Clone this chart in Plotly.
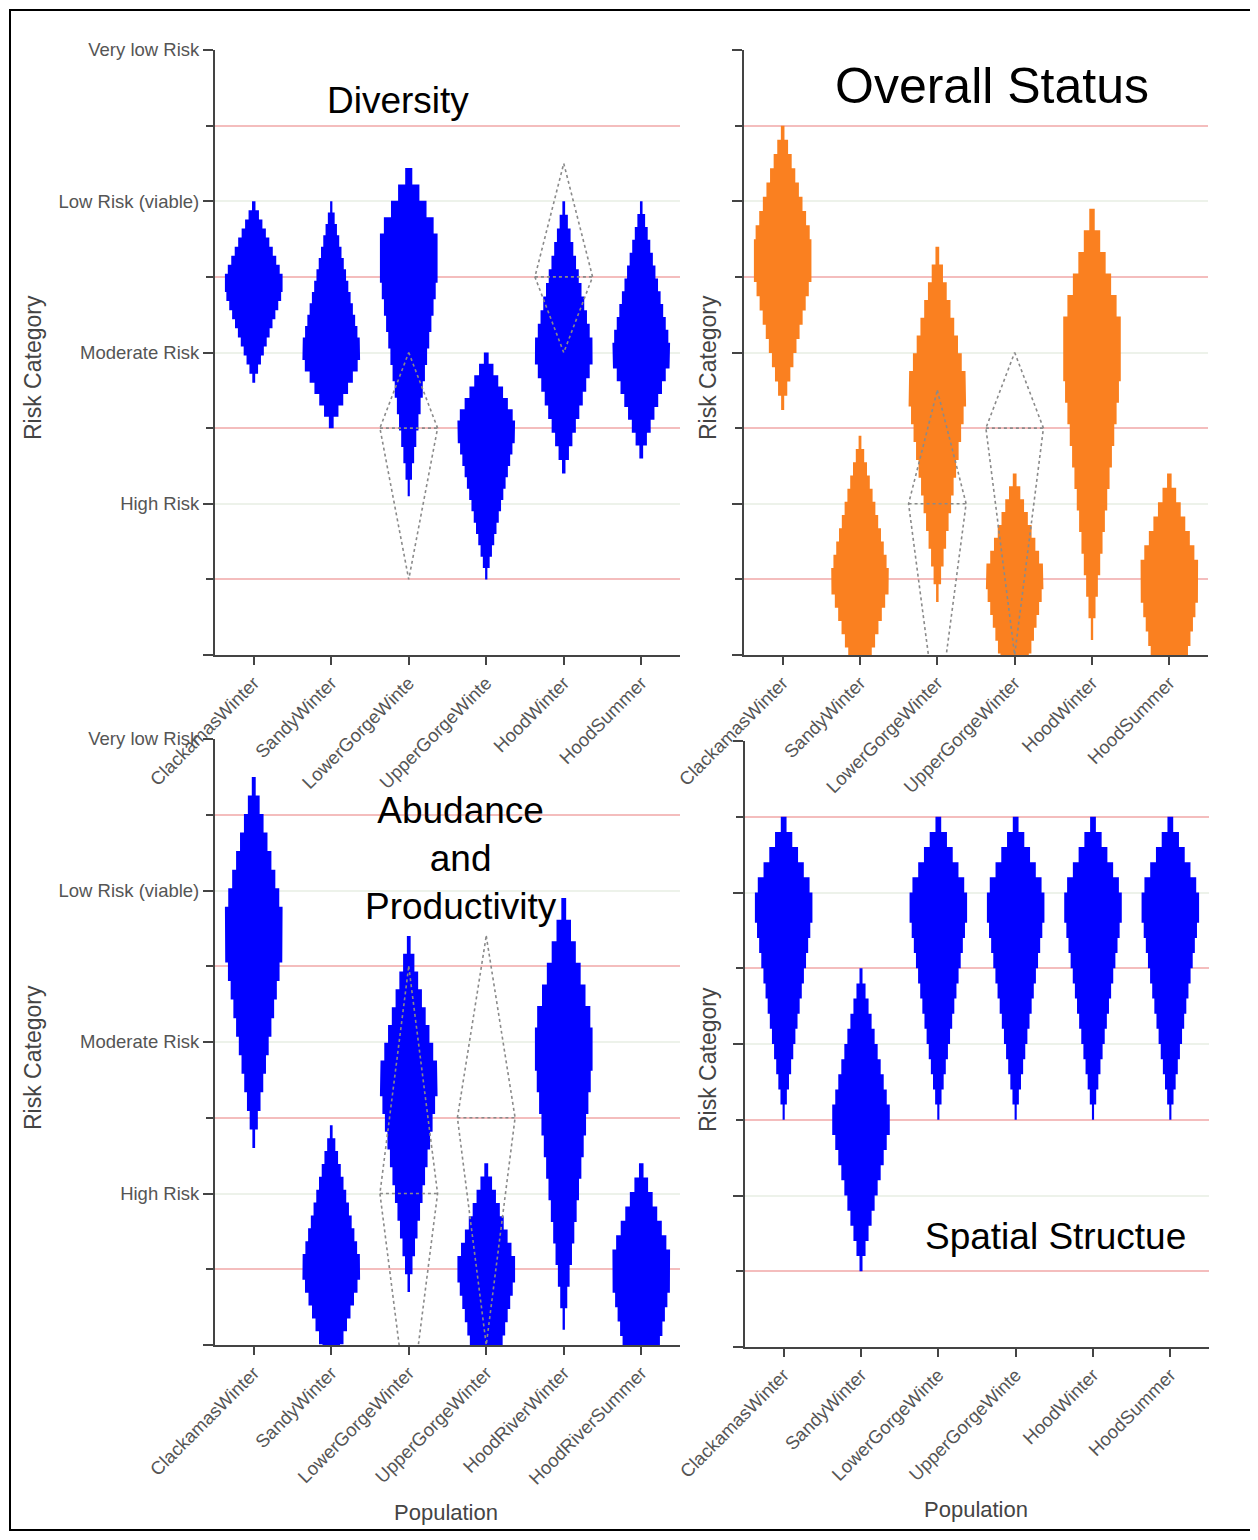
import plotly.graph_objects as go

# ---------------- data ----------------
risk_tickvals = [0, 1, 2, 3, 4]
risk_ticktext = ["", "High Risk", "Moderate Risk", "Low Risk (viable)", "Very low Risk"]

cats_div = ["ClackamasWinter", "SandyWinter", "LowerGorgeWinte", "UpperGorgeWinte", "HoodWinter", "HoodSummer"]
div_low = [1.8, 1.5, 1.05, 0.5, 1.2, 1.3]
div_peak_lo = [2.4, 1.95, 2.5, 1.45, 1.95, 1.95]
div_peak_hi = [2.5, 2.05, 2.78, 1.55, 2.05, 2.05]
div_high = [3.0, 3.0, 3.22, 2.0, 3.0, 3.0]
div_prev_idx = [3, 5]
div_prev_low = [0.5, 2.0]
div_prev_mid = [1.5, 2.5]
div_prev_high = [2.0, 3.25]

cats_ovr = ["ClackamasWinter", "SandyWinter", "LowerGorgeWinter", "UpperGorgeWinter", "HoodWinter", "HoodSummer"]
ovr_low = [1.62, -0.3, 0.35, -0.5, 0.1, -0.7]
ovr_peak_lo = [2.5, 0.45, 1.7, 0.45, 1.85, 0.4]
ovr_peak_hi = [2.75, 0.55, 1.8, 0.55, 2.2, 0.6]
ovr_high = [3.5, 1.45, 2.7, 1.2, 2.95, 1.2]
ovr_prev_idx = [3, 4]
ovr_prev_low = [-0.45, 0.0]
ovr_prev_mid = [1.0, 1.5]
ovr_prev_high = [1.75, 2.0]

cats_abd = ["ClackamasWinter", "SandyWinter", "LowerGorgeWinter", "UpperGorgeWinter", "HoodRiverWinter", "HoodRiverSummer"]
abd_low = [1.3, -0.25, 0.35, -0.55, 0.1, -0.7]
abd_peak_lo = [2.6, 0.45, 1.7, 0.45, 1.85, 0.4]
abd_peak_hi = [2.85, 0.55, 1.8, 0.55, 2.1, 0.6]
abd_high = [3.75, 1.45, 2.7, 1.2, 2.95, 1.2]
abd_prev_idx = [3, 4]
abd_prev_low = [-0.5, 0.0]
abd_prev_mid = [1.0, 1.5]
abd_prev_high = [2.5, 2.7]

cats_spa = ["ClackamasWinter", "SandyWinter", "LowerGorgeWinte", "UpperGorgeWinte", "HoodWinter", "HoodSummer"]
spa_low = [1.5, 0.5, 1.5, 1.5, 1.5, 1.5]
spa_peak_lo = [2.85, 1.45, 2.85, 2.85, 2.85, 2.85]
spa_peak_hi = [3.0, 1.55, 3.0, 3.0, 3.0, 3.0]
spa_high = [3.5, 2.5, 3.5, 3.5, 3.5, 3.5]

# ---------------- styling ----------------
OFF = 8                      # page body margin
W, H = 1258 - OFF, 1540 - 2 * OFF
BLUE = "#0000FF"
ORANGE = "#FA8020"
FONT = "Liberation Sans, Arial, sans-serif"
HALF_W = 0.372
NBINS = 20


def px_x(p):
    return (p - OFF) / W


def px_y(p):
    return 1 - (p - OFF) / H


def step_shape(xc, low, plo, phi, high):
    h = (high - low) / NBINS
    edges = [low + i * h for i in range(NBINS + 1)]
    fs = []
    for i in range(NBINS):
        yc = (edges[i] + edges[i + 1]) / 2
        if yc < plo:
            f = (yc - low) / (plo - low)
        elif yc > phi:
            f = (high - yc) / (high - phi)
        else:
            f = 1.0
        fs.append(max(f, 0))
    m = max(fs)
    ws = [HALF_W * f / m for f in fs]
    xs, ys = [], []
    for i in range(NBINS):
        xs += [xc + ws[i], xc + ws[i]]
        ys += [edges[i], edges[i + 1]]
    for i in reversed(range(NBINS)):
        xs += [xc - ws[i], xc - ws[i]]
        ys += [edges[i + 1], edges[i]]
    xs.append(xs[0])
    ys.append(ys[0])
    return xs, ys


fig = go.Figure()

panels = [
    dict(ax="", cats=cats_div, low=div_low, plo=div_peak_lo, phi=div_peak_hi, high=div_high,
         color=BLUE, prev=(div_prev_idx, div_prev_low, div_prev_mid, div_prev_high),
         xdom=[px_x(215), px_x(680)], ydom=[px_y(655), px_y(50)], labels=True, xl=206),
    dict(ax="2", cats=cats_ovr, low=ovr_low, plo=ovr_peak_lo, phi=ovr_peak_hi, high=ovr_high,
         color=ORANGE, prev=(ovr_prev_idx, ovr_prev_low, ovr_prev_mid, ovr_prev_high),
         xdom=[px_x(744), px_x(1208)], ydom=[px_y(655), px_y(50)], labels=False, xl=735),
    dict(ax="3", cats=cats_abd, low=abd_low, plo=abd_peak_lo, phi=abd_peak_hi, high=abd_high,
         color=BLUE, prev=(abd_prev_idx, abd_prev_low, abd_prev_mid, abd_prev_high),
         xdom=[px_x(215), px_x(680)], ydom=[px_y(1345), px_y(739)], labels=True, xl=206),
    dict(ax="4", cats=cats_spa, low=spa_low, plo=spa_peak_lo, phi=spa_peak_hi, high=spa_high,
         color=BLUE, prev=None,
         xdom=[px_x(745), px_x(1209)], ydom=[px_y(1347), px_y(741)], labels=False, xl=736),
]

layout_axes = {}
shapes = []
for p in panels:
    a = p["ax"]
    xname, yname = "x" + a, "y" + a
    for i in range(len(p["cats"])):
        xs, ys = step_shape(i + 1, p["low"][i], p["plo"][i], p["phi"][i], p["high"][i])
        fig.add_trace(go.Scatter(x=xs, y=ys, mode="lines", fill="toself",
                                 fillcolor=p["color"], line=dict(width=0, color=p["color"]),
                                 xaxis=xname, yaxis=yname, hoverinfo="skip", showlegend=False))
    if p["prev"]:
        idx, lo, mid, hi = p["prev"]
        for k in range(len(idx)):
            xc = idx[k]
            fig.add_trace(go.Scatter(
                x=[xc, xc + HALF_W, xc, xc - HALF_W, xc, None, xc - HALF_W, xc + HALF_W],
                y=[hi[k], mid[k], lo[k], mid[k], hi[k], None, mid[k], mid[k]],
                mode="lines", line=dict(color="#8A8A8A", width=1.6, dash="dot"),
                xaxis=xname, yaxis=yname, hoverinfo="skip", showlegend=False))

    layout_axes["xaxis" + a] = dict(
        domain=p["xdom"], anchor=yname, range=[0.5, 6.5], automargin=False,
        tickmode="array", tickvals=list(range(1, 7)), ticktext=p["cats"],
        tickangle=-45, ticks="outside", ticklen=8, tickwidth=2, tickcolor="#444",
        showline=True, linecolor="#444", linewidth=2, showgrid=False, zeroline=False,
        tickfont=dict(family=FONT, size=18.5, color="#555"), fixedrange=True)
    layout_axes["yaxis" + a] = dict(
        domain=p["ydom"], anchor=xname, range=[0, 4], automargin=False,
        tickmode="array", tickvals=risk_tickvals,
        ticktext=risk_ticktext if p["labels"] else [""] * 5,
        ticks="outside", ticklen=10, tickwidth=2, tickcolor="#444",
        showline=True, linecolor="#444", linewidth=2,
        showgrid=True, gridcolor="#EDF2EA", gridwidth=1.5, zeroline=False,
        minor=dict(tickmode="array", tickvals=[0.5, 1.5, 2.5, 3.5], ticks="outside",
                   ticklen=7, tickwidth=2, tickcolor="#444",
                   showgrid=True, gridcolor="#F4BDBD", gridwidth=2),
        tickfont=dict(family=FONT, size=18.5, color="#555"), fixedrange=True)
    # small overshoot of the x axis line to the left of the y axis
    shapes.append(dict(type="line", xref="paper", yref=yname + " domain",
                       x0=px_x(p["xl"]), x1=p["xdom"][0], y0=0, y1=0,
                       line=dict(color="#444", width=2)))

annotations = [
    dict(text="Diversity", x=px_x(398), y=px_y(100), font=dict(size=37)),
    dict(text="Overall Status", x=px_x(992), y=px_y(86), font=dict(size=50)),
    dict(text="Abudance<br>and<br>Productivity", x=px_x(461), y=px_y(858), font=dict(size=37)),
    dict(text="Spatial Structue", x=px_x(1055), y=px_y(1236), font=dict(size=37)),
    dict(text="Risk Category", x=px_x(33), y=px_y(368), textangle=-90, font=dict(size=23, color="#444")),
    dict(text="Risk Category", x=px_x(708), y=px_y(368), textangle=-90, font=dict(size=23, color="#444")),
    dict(text="Risk Category", x=px_x(33), y=px_y(1058), textangle=-90, font=dict(size=23, color="#444")),
    dict(text="Risk Category", x=px_x(708), y=px_y(1060), textangle=-90, font=dict(size=23, color="#444")),
    dict(text="Population", x=px_x(446), y=px_y(1512), font=dict(size=22, color="#444")),
    dict(text="Population", x=px_x(976), y=px_y(1509), font=dict(size=22, color="#444")),
]
for an in annotations:
    an.update(xref="paper", yref="paper", showarrow=False, xanchor="center", yanchor="middle")
    f = dict(family=FONT, color="black")
    f.update(an["font"])
    an["font"] = f

shapes.append(dict(type="rect", xref="paper", yref="paper", x0=px_x(10), x1=px_x(1254),
                   y0=px_y(1530), y1=px_y(10), line=dict(color="black", width=2)))

fig.update_layout(
    width=W, height=H, margin=dict(l=0, r=0, t=0, b=0, autoexpand=False),
    paper_bgcolor="white", plot_bgcolor="white",
    annotations=annotations, shapes=shapes, showlegend=False,
    **layout_axes)

fig.write_html("out.html")
